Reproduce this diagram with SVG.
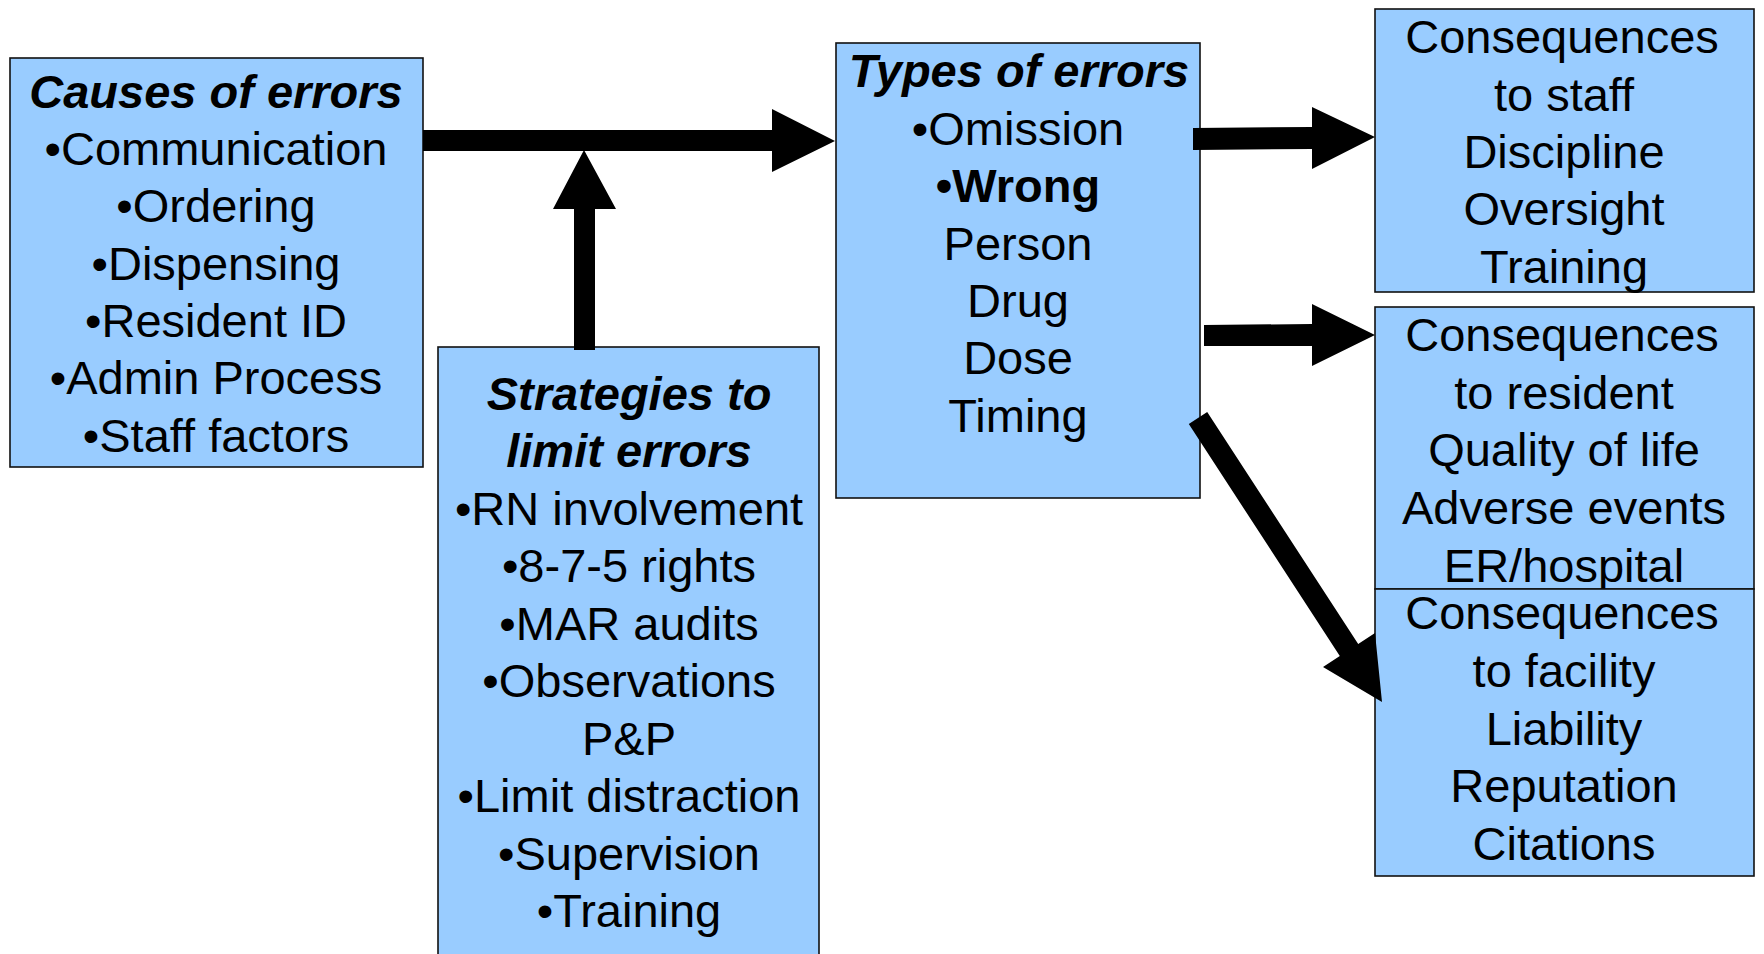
<svg xmlns="http://www.w3.org/2000/svg" width="1764" height="954" viewBox="0 0 1764 954">
<style>
.box{fill:#99CCFF;stroke:#111;stroke-width:1.6}
text{font-family:"Liberation Sans",Arial,sans-serif;font-size:47px;fill:#000;text-anchor:middle}
.t{font-weight:bold;font-style:italic}
.b{font-weight:bold}
.arrow{fill:#000;stroke:none}
</style>
<rect width="1764" height="954" fill="#fff"/>
<g id="causes">
<rect class="box" x="10" y="58" width="413" height="409"/>
<text class="t" x="216" y="108">Causes of errors</text>
<text x="216" y="165">•Communication</text>
<text x="216" y="222">•Ordering</text>
<text x="216" y="280">•Dispensing</text>
<text x="216" y="337">•Resident ID</text>
<text x="216" y="394">•Admin Process</text>
<text x="216" y="452">•Staff factors</text>
</g>
<g id="strategies">
<rect class="box" x="438" y="347" width="381" height="620"/>
<text class="t" x="629" y="410">Strategies to</text>
<text class="t" x="629" y="467">limit errors</text>
<text x="629" y="525">•RN involvement</text>
<text x="629" y="582">•8-7-5 rights</text>
<text x="629" y="640">•MAR audits</text>
<text x="629" y="697">•Observations</text>
<text x="629" y="755">P&amp;P</text>
<text x="629" y="812">•Limit distraction</text>
<text x="629" y="870">•Supervision</text>
<text x="629" y="927">•Training</text>
</g>
<g id="types">
<rect class="box" x="836" y="43" width="364" height="455"/>
<text class="t" x="1019" y="87">Types of errors</text>
<text x="1018" y="145">•Omission</text>
<text class="b" x="1018" y="202">•Wrong</text>
<text x="1018" y="260">Person</text>
<text x="1018" y="317">Drug</text>
<text x="1018" y="374">Dose</text>
<text x="1018" y="432">Timing</text>
</g>
<g id="staff">
<rect class="box" x="1375" y="9" width="379" height="283"/>
<text x="1562" y="53">Consequences</text>
<text x="1564" y="111">to staff</text>
<text x="1564" y="168">Discipline</text>
<text x="1564" y="225">Oversight</text>
<text x="1564" y="283">Training</text>
</g>
<g id="resident">
<rect class="box" x="1375" y="307" width="379" height="282"/>
<text x="1562" y="351">Consequences</text>
<text x="1564" y="409">to resident</text>
<text x="1564" y="466">Quality of life</text>
<text x="1564" y="524">Adverse events</text>
<text x="1564" y="582">ER/hospital</text>
</g>
<g id="facility">
<rect class="box" x="1375" y="589" width="379" height="287"/>
<text x="1562" y="629">Consequences</text>
<text x="1564" y="687">to facility</text>
<text x="1564" y="745">Liability</text>
<text x="1564" y="802">Reputation</text>
<text x="1564" y="860">Citations</text>
</g>
<g id="connectors">
<polygon class="arrow" points="423,130 772,130 772,109 835,141 772,172 772,151 423,151"/>
<polygon class="arrow" points="574,350 574,209 553,209 584,150 616,209 595,209 595,350"/>
<polygon class="arrow" points="1193,128 1312,127 1312,107 1375,137 1312,169 1312,149 1193,150"/>
<polygon class="arrow" points="1204,325 1312,324 1312,304 1375,335 1312,366 1312,346 1204,346"/>
<polygon class="arrow" points="1188.8,424 1207.2,412 1358.2,644 1375,633 1382,702 1323,667 1339.8,656"/>
</g>
</svg>
